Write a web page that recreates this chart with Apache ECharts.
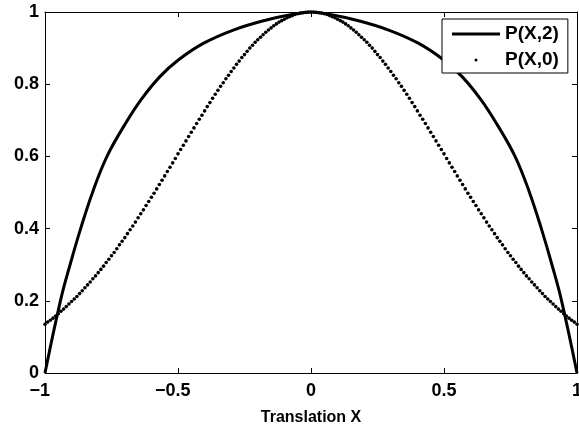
<!DOCTYPE html>
<html>
<head>
<meta charset="utf-8">
<script src="https://cdn.jsdelivr.net/npm/echarts@6/dist/echarts.min.js"></script>
<style>html,body{margin:0;padding:0;background:#fff}#c{width:579px;height:425px}</style>
</head>
<body>
<div id="c"></div>
<script>
// Tick values
const xTicks = [-1, -0.5, 0, 0.5, 1];
const yTicks = [0, 0.2, 0.4, 0.6, 0.8, 1];
const seriesNames = ['P(X,2)', 'P(X,0)'];

// P(X,2): solid curve
const solidX = [-1, -0.942, -0.905, -0.866, -0.82, -0.767, -0.70, -0.640, -0.568, -0.499, -0.405, -0.292, -0.167, -0.067, 0,
  0.067, 0.167, 0.292, 0.405, 0.499, 0.568, 0.640, 0.70, 0.767, 0.82, 0.866, 0.905, 0.942, 1];
const solidY = [0, 0.200, 0.302, 0.400, 0.503, 0.600, 0.688, 0.756, 0.821, 0.867, 0.913, 0.950, 0.978, 0.994, 1.000,
  0.994, 0.978, 0.950, 0.913, 0.867, 0.821, 0.756, 0.688, 0.600, 0.503, 0.400, 0.302, 0.200, 0];

// P(X,0): dotted curve
const dotX = [
 -1.00,-0.99,-0.98,-0.97,-0.96,-0.95,-0.94,-0.93,-0.92,-0.91,
 -0.90,-0.89,-0.88,-0.87,-0.86,-0.85,-0.84,-0.83,-0.82,-0.81,
 -0.80,-0.79,-0.78,-0.77,-0.76,-0.75,-0.74,-0.73,-0.72,-0.71,
 -0.70,-0.69,-0.68,-0.67,-0.66,-0.65,-0.64,-0.63,-0.62,-0.61,
 -0.60,-0.59,-0.58,-0.57,-0.56,-0.55,-0.54,-0.53,-0.52,-0.51,
 -0.50,-0.49,-0.48,-0.47,-0.46,-0.45,-0.44,-0.43,-0.42,-0.41,
 -0.40,-0.39,-0.38,-0.37,-0.36,-0.35,-0.34,-0.33,-0.32,-0.31,
 -0.30,-0.29,-0.28,-0.27,-0.26,-0.25,-0.24,-0.23,-0.22,-0.21,
 -0.20,-0.19,-0.18,-0.17,-0.16,-0.15,-0.14,-0.13,-0.12,-0.11,
 -0.10,-0.09,-0.08,-0.07,-0.06,-0.05,-0.04,-0.03,-0.02,-0.01,
 0.00,
 0.01,0.02,0.03,0.04,0.05,0.06,0.07,0.08,0.09,0.10,
 0.11,0.12,0.13,0.14,0.15,0.16,0.17,0.18,0.19,0.20,
 0.21,0.22,0.23,0.24,0.25,0.26,0.27,0.28,0.29,0.30,
 0.31,0.32,0.33,0.34,0.35,0.36,0.37,0.38,0.39,0.40,
 0.41,0.42,0.43,0.44,0.45,0.46,0.47,0.48,0.49,0.50,
 0.51,0.52,0.53,0.54,0.55,0.56,0.57,0.58,0.59,0.60,
 0.61,0.62,0.63,0.64,0.65,0.66,0.67,0.68,0.69,0.70,
 0.71,0.72,0.73,0.74,0.75,0.76,0.77,0.78,0.79,0.80,
 0.81,0.82,0.83,0.84,0.85,0.86,0.87,0.88,0.89,0.90,
 0.91,0.92,0.93,0.94,0.95,0.96,0.97,0.98,0.99,1.00];
const dotY = [
 0.135,0.141,0.146,0.152,0.158,0.164,0.171,0.177,0.184,0.191,
 0.198,0.205,0.212,0.220,0.228,0.236,0.244,0.252,0.261,0.269,
 0.278,0.287,0.296,0.306,0.315,0.325,0.334,0.344,0.355,0.365,
 0.375,0.386,0.397,0.407,0.418,0.430,0.441,0.452,0.464,0.475,
 0.487,0.498,0.510,0.522,0.534,0.546,0.558,0.570,0.582,0.594,
 0.607,0.619,0.631,0.643,0.655,0.667,0.679,0.691,0.703,0.714,
 0.726,0.738,0.749,0.761,0.772,0.783,0.794,0.804,0.815,0.825,
 0.835,0.845,0.855,0.864,0.874,0.882,0.891,0.900,0.908,0.916,
 0.923,0.930,0.937,0.944,0.950,0.956,0.962,0.967,0.972,0.976,
 0.980,0.984,0.987,0.990,0.993,0.995,0.997,0.998,0.999,1.000,
 1.000,
 1.000,0.999,0.998,0.997,0.995,0.993,0.990,0.987,0.984,0.980,
 0.976,0.972,0.967,0.962,0.956,0.950,0.944,0.937,0.930,0.923,
 0.916,0.908,0.900,0.891,0.882,0.874,0.864,0.855,0.845,0.835,
 0.825,0.815,0.804,0.794,0.783,0.772,0.761,0.749,0.738,0.726,
 0.714,0.703,0.691,0.679,0.667,0.655,0.643,0.631,0.619,0.607,
 0.594,0.582,0.570,0.558,0.546,0.534,0.522,0.510,0.498,0.487,
 0.475,0.464,0.452,0.441,0.430,0.418,0.407,0.397,0.386,0.375,
 0.365,0.355,0.344,0.334,0.325,0.315,0.306,0.296,0.287,0.278,
 0.269,0.261,0.252,0.244,0.236,0.228,0.220,0.212,0.205,0.198,
 0.191,0.184,0.177,0.171,0.164,0.158,0.152,0.146,0.141,0.135];

const FONT = '"Liberation Sans", Arial, Helvetica, sans-serif';
const chart = echarts.init(document.getElementById('c'), null, {renderer: 'canvas'});

const axisLineStyle = {color: '#000', width: 1};
const topLineStyle = {color: '#000', width: 1};
// negative labels: the minus sign hangs to the left of the centred number
const fmtX = v => v < 0 ? '{n|\u2212' + String(-v) + '}{h|\u2212}' : '{n|' + v + '}';
const labelFont = {fontFamily: FONT, fontWeight: 'bold', fontSize: 18, color: '#000'};

const option = {
  animation: false,
  backgroundColor: '#fff',
  grid: {left: 45, right: 2, top: 12, bottom: 52, containLabel: false, outerBoundsMode: 'none'},
  legend: {
    orient: 'vertical',
    left: 442, top: 19,
    padding: [5, 9, 3, 10],
    itemWidth: 48, itemHeight: 3, itemGap: 6,
    backgroundColor: '#fff', borderColor: '#000', borderWidth: 1,
    textStyle: {fontFamily: FONT, fontWeight: 'bold', fontSize: 19, color: '#000', lineHeight: 20},
    data: [
      {name: seriesNames[0], icon: 'rect'},
      {name: seriesNames[1], icon: 'circle'}
    ]
  },
  xAxis: [{
    type: 'value', min: xTicks[0], max: xTicks[xTicks.length - 1], interval: 0.5,
    position: 'bottom',
    name: 'Translation X', nameLocation: 'middle', nameGap: 37,
    nameTextStyle: {fontFamily: FONT, fontWeight: 'bold', fontSize: 16, color: '#000'},
    axisLine: {show: true, onZero: false, lineStyle: axisLineStyle},
    axisTick: {show: true, inside: true, length: 5, lineStyle: axisLineStyle},
    axisLabel: {formatter: fmtX, margin: 9, rich: {
      n: labelFont,
      h: Object.assign({}, labelFont, {color: 'rgba(0,0,0,0)'})
    }},
    splitLine: {show: false}
  }, {
    type: 'value', min: xTicks[0], max: xTicks[xTicks.length - 1], interval: 0.5, position: 'top',
    axisLine: {show: true, onZero: false, lineStyle: topLineStyle},
    axisTick: {show: true, inside: true, length: 5, lineStyle: axisLineStyle},
    axisLabel: {show: false}, splitLine: {show: false}
  }],
  yAxis: [{
    type: 'value', min: yTicks[0], max: yTicks[yTicks.length - 1], interval: 0.2,
    position: 'left',
    axisLine: {show: true, onZero: false, lineStyle: axisLineStyle},
    axisTick: {show: true, inside: true, length: 5, lineStyle: axisLineStyle},
    axisLabel: Object.assign({margin: 6}, labelFont),
    splitLine: {show: false}
  }, {
    type: 'value', min: yTicks[0], max: yTicks[yTicks.length - 1], interval: 0.2, position: 'right',
    axisLine: {show: true, onZero: false, lineStyle: axisLineStyle},
    axisTick: {show: true, inside: true, length: 5, lineStyle: axisLineStyle},
    axisLabel: {show: false}, splitLine: {show: false}
  }],
  series: [{
    name: seriesNames[0], type: 'line', xAxisIndex: 0, yAxisIndex: 0,
    data: solidX.map((x, i) => [x, solidY[i]]),
    showSymbol: false, symbol: 'none', smooth: 0.4,
    lineStyle: {color: '#000', width: 3}, itemStyle: {color: '#000'},
    z: 3
  }, {
    name: seriesNames[1], type: 'scatter', xAxisIndex: 0, yAxisIndex: 0,
    data: dotX.map((x, i) => [x, dotY[i]]),
    symbol: 'circle', symbolSize: 3.6,
    itemStyle: {color: '#000', opacity: 1}, z: 2
  }]
};
chart.setOption(option);
</script>
</body>
</html>
